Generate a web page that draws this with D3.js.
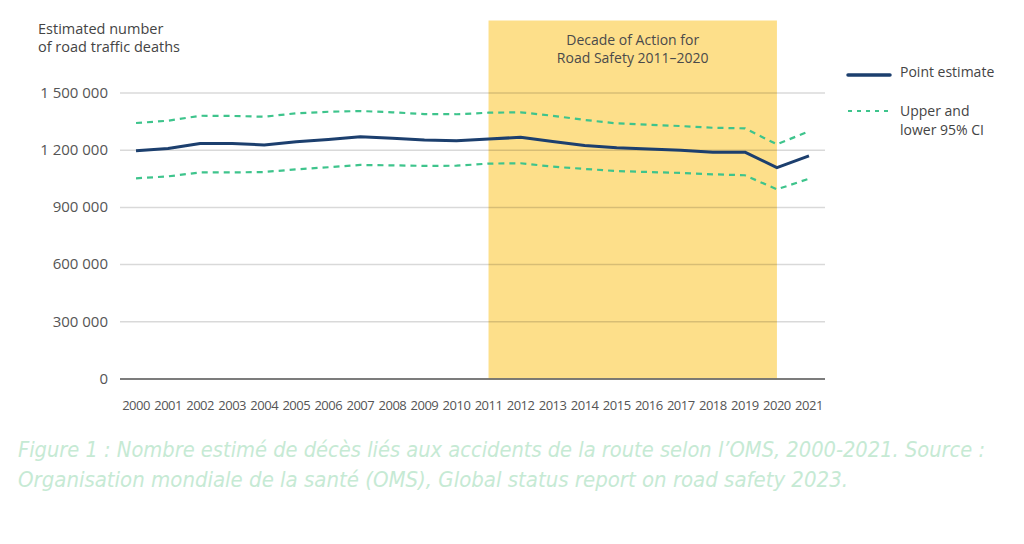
<!DOCTYPE html>
<html>
<head>
<meta charset="utf-8">
<script src="https://cdn.jsdelivr.net/npm/d3@7"></script>
<style>
  html, body { margin: 0; padding: 0; background: #fff; }
  svg { display: block; }
</style>
</head>
<body>
<svg id="chart" width="1024" height="544"></svg>
<script>
const years = [2000,2001,2002,2003,2004,2005,2006,2007,2008,2009,2010,2011,2012,2013,2014,2015,2016,2017,2018,2019,2020,2021];
const pointEstimate = [1195000,1206000,1233000,1232000,1225000,1242000,1254000,1268000,1260000,1251000,1247000,1256000,1265000,1243000,1222000,1210000,1204000,1197000,1187000,1187000,1106000,1168000];
const upperCI = [1340000,1352000,1378000,1377000,1373000,1391000,1399000,1403000,1396000,1387000,1386000,1394000,1396000,1378000,1356000,1338000,1331000,1324000,1315000,1312000,1228000,1297000];
const lowerCI = [1050000,1060000,1081000,1081000,1083000,1097000,1108000,1120000,1118000,1115000,1116000,1127000,1129000,1111000,1099000,1088000,1083000,1078000,1071000,1066000,992000,1048000];
const yTicks = [0, 300000, 600000, 900000, 1200000, 1500000];
const decade = [2011, 2020];
const titleLines = ["Estimated number", "of road traffic deaths"];
const decadeLines = ["Decade of Action for", "Road Safety 2011–2020"];
const legendItems = [
  {label: ["Point estimate"], key: "point"},
  {label: ["Upper and", "lower 95% CI"], key: "ci"}
];
const captionLines = [
  "Figure 1 : Nombre estimé de décès liés aux accidents de la route selon l’OMS, 2000-2021. Source :",
  "Organisation mondiale de la santé (OMS), Global status report on road safety 2023."
];

const navy = "#1c3f6e";
const green = "#3ec48c";
const font = "'Open Sans', 'DejaVu Sans', sans-serif";

const svg = d3.select("#chart");
const mLeft = 120, mRight = 825, mTop = 92.5, mBottom = 378.5;

const x = d3.scaleBand().domain(years).range([mLeft, mRight]).padding(0);
const xc = yr => x(yr) + x.bandwidth() / 2;
const y = d3.scaleLinear().domain([0, 1500000]).range([mBottom, mTop]);

// decade band
svg.append("rect")
  .attr("x", xc(decade[0]))
  .attr("y", 20.5)
  .attr("width", xc(decade[1]) - xc(decade[0]))
  .attr("height", mBottom - 20.5 + 1)
  .attr("fill", "#fddf8a");

svg.append("g").selectAll("text").data(decadeLines).join("text")
  .attr("x", (xc(decade[0]) + xc(decade[1])) / 2)
  .attr("y", (d, i) => 45 + i * 17.5)
  .attr("text-anchor", "middle")
  .attr("font-family", font).attr("font-size", 14)
  .attr("fill", "#4a4a4a")
  .text(d => d);

// gridlines
const fmt = v => v === 0 ? "0" : d3.format(",")(v).replace(/,/g, " ");
const yAxis = d3.axisLeft(y).tickValues(yTicks).tickSize(-(mRight - mLeft)).tickFormat(fmt).tickPadding(12);
const gy = svg.append("g").attr("transform", `translate(${mLeft},0)`).call(yAxis);
gy.select(".domain").remove();
gy.selectAll(".tick line")
  .attr("stroke", d => d === 0 ? "#6e6e6e" : "#000")
  .attr("stroke-opacity", d => d === 0 ? 0.9 : 0.15)
  .attr("stroke-width", d => d === 0 ? 2 : 1.5);
gy.selectAll(".tick text")
  .attr("font-family", font).attr("font-size", 15)
  .attr("fill", "#555").attr("x", -12);

// x axis labels
const xAxis = d3.axisBottom(x).tickSize(0).tickPadding(0);
const gx = svg.append("g").attr("transform", `translate(0,${mBottom + 22})`).call(xAxis);
gx.select(".domain").remove();
gx.selectAll(".tick text")
  .attr("font-family", font).attr("font-size", 13)
  .attr("letter-spacing", "-0.5px")
  .attr("fill", "#555");

// lines
const lineGen = vals => d3.line().x((d, i) => xc(years[i])).y(d => y(d))(vals);
svg.append("path").attr("d", lineGen(upperCI))
  .attr("fill", "none").attr("stroke", green).attr("stroke-width", 2.2).attr("stroke-dasharray", "6,5");
svg.append("path").attr("d", lineGen(lowerCI))
  .attr("fill", "none").attr("stroke", green).attr("stroke-width", 2.2).attr("stroke-dasharray", "6,5");
svg.append("path").attr("d", lineGen(pointEstimate))
  .attr("fill", "none").attr("stroke", navy).attr("stroke-width", 3).attr("stroke-linejoin", "round");

// y title
svg.append("g").selectAll("text").data(titleLines).join("text")
  .attr("x", 38).attr("y", (d, i) => 34 + i * 18)
  .attr("font-family", font).attr("font-size", 14.5)
  .attr("fill", "#444")
  .text(d => d);

// legend
const lg = svg.append("g");
lg.append("line").attr("x1", 848).attr("x2", 890).attr("y1", 75).attr("y2", 75)
  .attr("stroke", navy).attr("stroke-width", 3.5).attr("stroke-linecap", "round");
lg.append("line").attr("x1", 848).attr("x2", 890).attr("y1", 111).attr("y2", 111)
  .attr("stroke", green).attr("stroke-width", 2.2).attr("stroke-dasharray", "4,5");
legendItems.forEach((item, k) => {
  lg.append("g").selectAll("text").data(item.label).join("text")
    .attr("x", 900).attr("y", (d, i) => (k === 0 ? 77 : 116) + i * 19)
    .attr("font-family", font).attr("font-size", 14)
    .attr("fill", "#444")
    .text(d => d);
});

// caption
const capWidths = [967, 830];
svg.append("g").selectAll("text").data(captionLines).join("text")
  .attr("x", 18).attr("y", (d, i) => 457 + i * 30)
  .attr("font-family", "'Liberation Sans Narrow', 'DejaVu Sans Condensed', 'Open Sans', sans-serif")
  .attr("font-style", "italic")
  .attr("font-size", 21)
  .attr("fill", "#c6ead4")
  .attr("textLength", (d, i) => capWidths[i])
  .attr("lengthAdjust", "spacingAndGlyphs")
  .text(d => d);
</script>
</body>
</html>
